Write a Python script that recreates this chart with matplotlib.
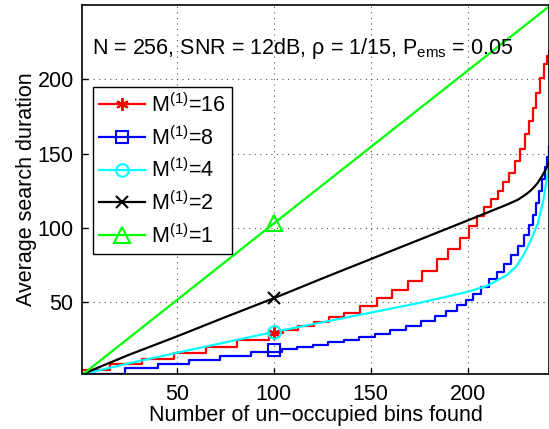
import numpy as np
from matplotlib import pyplot as plt

plt.rcParams['font.family'] = ['Liberation Sans', 'DejaVu Sans']
plt.rcParams['mathtext.fontset'] = 'custom'
plt.rcParams['mathtext.rm'] = 'Liberation Sans'
plt.rcParams['mathtext.it'] = 'Liberation Sans:italic'

# M(1)=16, staircase (step start x, level)
red_x = [1, 15.7, 32, 48.4, 64.8, 81, 97.5, 104.5, 112.5, 120.5, 128.5, 136, 144.5,
         153, 161, 169, 176.5, 184, 190, 196, 200.5, 205, 208.5, 212, 215.5, 218.5,
         221.5, 224.5, 227, 229.5, 231.5, 233.5, 235.5, 237.5, 239.5, 241, 242]
red_y = [4.5, 8.5, 12, 16, 19.8, 24.5, 29.5, 31.5, 34, 36.5, 40, 43, 47.5,
         53, 58.5, 64.3, 71, 79, 85.7, 93.5, 101.3, 108, 114, 119.6, 125, 131,
         137, 145, 153, 163, 172, 181, 191, 201, 210, 216, 219]

# M(1)=8, staircase
blue_x = [1, 23.4, 40, 56, 72, 88, 104, 112, 120, 128, 136, 144, 152, 160, 168,
          176, 183, 189, 194.5, 199, 203, 207, 211, 215, 219, 222.5, 226, 229,
          231.5, 233.5, 235.5, 237, 238.5, 240, 241, 241.8]
blue_y = [2, 5.8, 8.5, 11.2, 13.8, 16.8, 18.5, 20, 21.5, 23, 24.8, 26.5, 28.5, 31, 34,
          37.3, 40.5, 44, 47.8, 51.5, 55.5, 60.5, 65.5, 70.5, 76, 81.5, 88, 95,
          102, 109, 117, 125, 133, 141, 148, 155]

# M(1)=4
cyan_x = [1, 25, 50, 75, 100, 125, 150, 175, 200, 210, 220, 225, 229, 232, 236, 239, 241, 242]
cyan_y = [1.5, 8.8, 16, 23, 30, 36.5, 43, 49.5, 57, 61, 68, 74, 82, 90, 102, 118, 134, 142]

# M(1)=2
black_x = [1, 25, 50, 75, 100, 125, 150, 175, 200, 220, 226, 230, 232, 234, 236, 238, 240, 241, 242]
black_y = [1.5, 14.5, 27, 40, 52.7, 66, 79, 92, 105, 115.5, 119, 122.5, 124.5, 127, 130, 134, 138.5, 141, 144]

# M(1)=1
green_x = [1, 100, 242]
green_y = [1, 103, 249]

marker_x = 100
red_marker_y = 29.5
blue_marker_y = 17.8

labels = ['M$^{(1)}$=16', 'M$^{(1)}$=8', 'M$^{(1)}$=4', 'M$^{(1)}$=2', 'M$^{(1)}$=1']

fig = plt.figure(figsize=(5.49, 4.29), dpi=100)
ax = fig.add_axes([82 / 549, 55 / 429, 1 - 82 / 549, 369 / 429])

lw = 1.6
# repeat the last level so the final step is drawn up to the edge
ax.plot(red_x + [243], red_y + [red_y[-1]], color='red', lw=lw, drawstyle='steps-post')
ax.plot(blue_x + [243], blue_y + [blue_y[-1]], color='blue', lw=lw, drawstyle='steps-post')
ax.plot(cyan_x, cyan_y, color='cyan', lw=lw)
ax.plot(black_x, black_y, color='black', lw=lw)
ax.plot(green_x, green_y, color=(0, 1, 0), lw=lw)

# markers at x = 100
mk = dict(lw=0, mew=1.5, ms=9, mfc='none')
ax.plot([marker_x], [red_marker_y], marker=(6, 2, 0), color='red', **mk)
ax.plot([marker_x], [blue_marker_y], marker='s', color='blue', **mk)
ax.plot([marker_x], [cyan_y[cyan_x.index(marker_x)]], marker='o', color='cyan', **mk)
ax.plot([marker_x], [black_y[black_x.index(marker_x)]], marker='x', color='black', **mk)
ax.plot([marker_x], [green_y[green_x.index(marker_x)]], marker='^', color=(0, 1, 0),
        lw=0, mew=1.5, ms=11, mfc='none')

# legend handles
colors = ['red', 'blue', 'cyan', 'black', (0, 1, 0)]
markers = [(6, 2, 0), 's', 'o', 'x', '^']
handles = []
for c, m in zip(colors, markers):
    h, = ax.plot([], [], color=c, lw=lw, marker=m, mew=1.5,
                 ms=11 if m == '^' else 9, mfc='none')
    handles.append(h)
leg = ax.legend(handles, labels, loc='upper left', bbox_to_anchor=(0.0236, 0.778),
                borderaxespad=0, fontsize=15.5, handlelength=2.1, handletextpad=0.3,
                labelspacing=0.42, borderpad=0.3, fancybox=False, framealpha=1)
leg.get_frame().set_edgecolor('black')
leg.get_frame().set_linewidth(1.0)

ax.text(6, 221, r'N = 256, SNR = 12dB, ρ = 1/15, P$_{\mathrm{ems}}$ = 0.05',
        fontsize=15.5, va='center', ha='left')

ax.set_xlim(1, 242)
ax.set_ylim(1.7, 250)
ax.set_xticks([50, 100, 150, 200])
ax.set_yticks([50, 100, 150, 200])
ax.tick_params(direction='in', length=4, labelsize=15.5, width=1)
ax.tick_params(axis='x', pad=7)
ax.tick_params(axis='y', pad=6)
ax.grid(True, linestyle=(0, (1, 4)), color='#555555', lw=0.8)
for s in ax.spines.values():
    s.set_linewidth(1.2)

ax.set_xlabel('Number of un\u2212occupied bins found', fontsize=15.5, labelpad=0)
ax.set_ylabel('Average search duration', fontsize=15.5, labelpad=0)

fig.savefig('out.png', dpi=100)
